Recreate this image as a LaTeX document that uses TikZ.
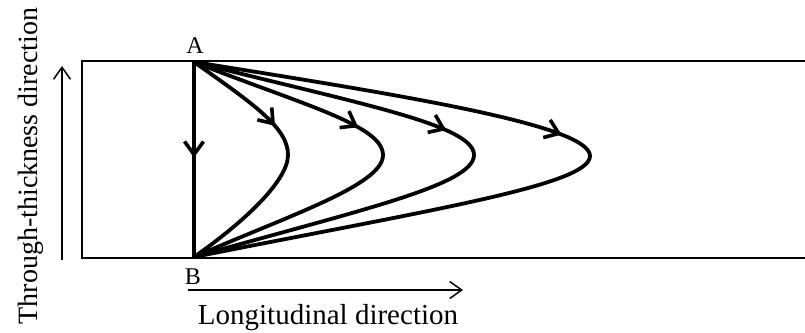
\documentclass[tikz,border=0pt]{standalone}
\usepackage{fontspec}
\setmainfont{Liberation Serif}
\usetikzlibrary{arrows.meta,decorations.markings}
\tikzset{
  barb/.tip={Straight Barb[length=13pt,width=19pt,line width=3.6pt]},
  axisbarb/.tip={Straight Barb[length=12pt,width=17pt,line width=1.5pt]}}
\begin{document}
\begin{tikzpicture}[x=1pt,y=-1pt,
  plate line/.style={line width=2pt},
  axis line/.style={line width=1.5pt},
  path line/.style={line width=3.8pt, line cap=round},
  midarrow/.style={postaction={decorate,decoration={markings,mark=at position #1 with {\arrow{barb}}}}},
  lbl/.style={font=\fontsize{29}{31}\selectfont, inner sep=0pt},
  vlbl/.style={font=\fontsize{28}{30}\selectfont, inner sep=0pt},
  pt/.style={font=\fontsize{24}{26}\selectfont, inner sep=0pt}]
\useasboundingbox (0,0) rectangle (805,332);
% plate
\coordinate (TL) at (82,61);
\coordinate (BL) at (82,258);
\coordinate (TR) at (806,61);
\coordinate (BR) at (806,258);
\draw[plate line] (TR) -- (TL) -- (BL) -- (BR);
% points
\coordinate (A) at (194,62);
\coordinate (B) at (194,257);
\node[pt, anchor=base] (Alab) at (195,53) {A};
\node[pt, anchor=base] (Blab) at (193,284) {B};
% tips
\coordinate (T1) at (288,155);
\coordinate (T2) at (383,155);
\coordinate (T3) at (474,155);
\coordinate (T4) at (590,156);
% vertical path
\draw[path line, midarrow=0.49] (A) -- (B);
% curved paths
\draw[path line, midarrow=0.76] (A) .. controls (255,105) and (288,128) .. (T1);
\draw[path line] (T1) .. controls (288,182) and (240,225) .. (B);
\draw[path line, midarrow=0.82] (A) .. controls (300,104) and (383,125) .. (T2);
\draw[path line] (T2) .. controls (383,185) and (290,215) .. (B);
\draw[path line, midarrow=0.87] (A) .. controls (360,104) and (474,125) .. (T3);
\draw[path line] (T3) .. controls (474,185) and (360,210) .. (B);
\draw[path line, midarrow=0.91] (A) .. controls (400,95) and (590,125) .. (T4);
\draw[path line] (T4) .. controls (590,185) and (430,210) .. (B);
% axes
\coordinate (H0) at (188,290);
\coordinate (H1) at (463,290);
\draw[axis line, -{axisbarb}] (H0) -- (H1);
\node[lbl, anchor=base] (hl) at (328,324) {Longitudinal direction};
\coordinate (V0) at (62,260);
\coordinate (V1) at (62,66);
\draw[axis line, -{axisbarb}] (V0) -- (V1);
\node[vlbl, anchor=base, rotate=90] (vl) at (37,166) {Through-thickness direction};
\end{tikzpicture}
\end{document}
